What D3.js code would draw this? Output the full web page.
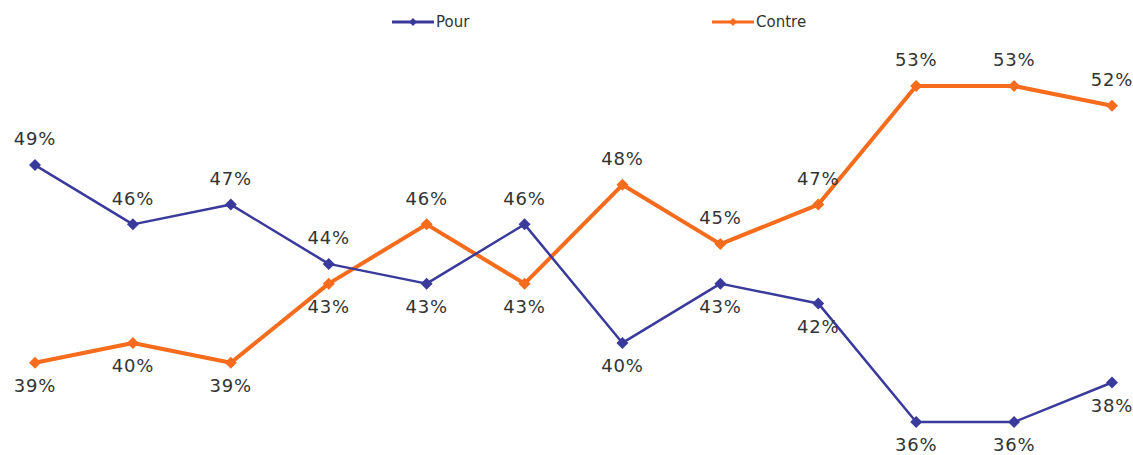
<!DOCTYPE html>
<html>
<head>
<meta charset="utf-8">
<script src="https://d3js.org/d3.v7.min.js"></script>
<style>
  body { margin: 0; background: white; }
  text { font-family: "DejaVu Sans", Verdana, sans-serif; }
</style>
</head>
<body>
<svg width="1133" height="455"></svg>
<script>
var points = [0,1,2,3,4,5,6,7,8,9,10,11]
var pour = [49, 46, 47, 44, 43, 46, 40, 43, 42, 36, 36, 38]
var contre = [39, 40, 39, 43, 46, 43, 48, 45, 47, 53, 53, 52]
var seriesNames = ["Pour", "Contre"]
var colors = ["#3a3a9c", "#f76b1c"]

var svg = d3.select("svg")
var x = d3.scaleLinear().domain([0, 11]).range([35, 1112])
var y = d3.scaleLinear().domain([36, 53]).range([422, 86])

var series = [
  {name: seriesNames[0], values: pour, color: colors[0], width: 2.5},
  {name: seriesNames[1], values: contre, color: colors[1], width: 4}
]

var line = d3.line().x(function(d, i) { return x(points[i]) }).y(function(d) { return y(d) })

function diamond(g, cx, cy, r, color) {
  g.append("path")
    .attr("d", "M" + cx + "," + (cy - r) + "L" + (cx + r) + "," + cy + "L" + cx + "," + (cy + r) + "L" + (cx - r) + "," + cy + "Z")
    .attr("fill", color)
}

var order = [series[1], series[0]]
order.forEach(function(s) {
  var g = svg.append("g")
  g.append("path")
    .attr("d", line(s.values))
    .attr("fill", "none")
    .attr("stroke", s.color)
    .attr("stroke-width", s.width)
    .attr("stroke-linejoin", "round")
  s.values.forEach(function(v, i) {
    diamond(g, x(points[i]), y(v), 6, s.color)
  })
})

// labels: higher value above, lower value below
series.forEach(function(s, k) {
  var other = series[1 - k].values
  s.values.forEach(function(v, i) {
    var above = v > other[i]
    svg.append("text")
      .attr("x", x(points[i]))
      .attr("y", y(v) + (above ? -26 : 23))
      .attr("dy", "0.35em")
      .attr("text-anchor", "middle")
      .attr("font-size", "18px")
      .attr("letter-spacing", "0.8px")
      .attr("fill", "#333")
      .text(v + "%")
  })
})

// legend
var legendX = [392, 712]
series.forEach(function(s, k) {
  var lg = svg.append("g")
  lg.append("line")
    .attr("x1", legendX[k]).attr("x2", legendX[k] + 42)
    .attr("y1", 22).attr("y2", 22)
    .attr("stroke", s.color).attr("stroke-width", 3)
  diamond(lg, legendX[k] + 21, 22, 4, s.color)
  lg.append("text")
    .attr("x", legendX[k] + 44)
    .attr("y", 22)
    .attr("dy", "0.35em")
    .attr("font-size", "15px")
    .attr("fill", "#333")
    .text(s.name)
})
</script>
</body>
</html>
